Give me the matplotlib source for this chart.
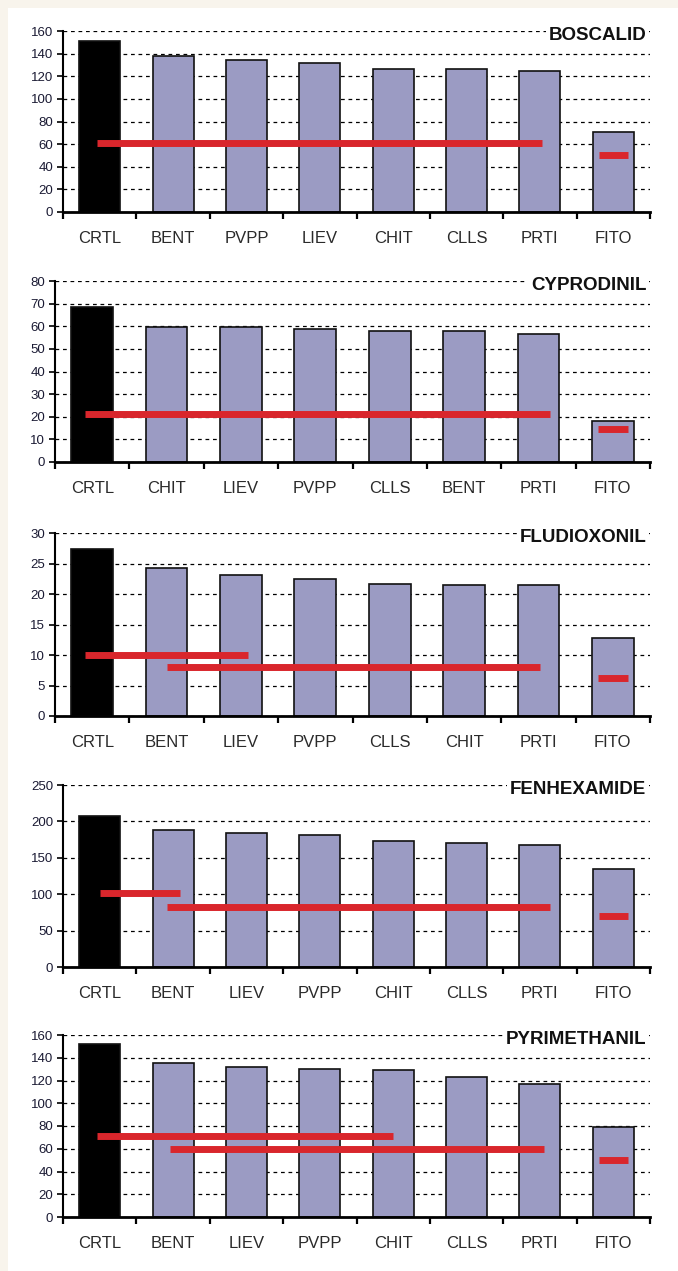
import matplotlib
matplotlib.use("Agg")
import matplotlib.pyplot as plt
from matplotlib.patches import Rectangle
from matplotlib.ticker import MultipleLocator, FixedLocator

plt.rcParams['font.family'] = ['Liberation Sans', 'DejaVu Sans']

# ---------------- data ----------------
titles = ["BOSCALID", "CYPRODINIL", "FLUDIOXONIL", "FENHEXAMIDE", "PYRIMETHANIL"]

cats_boscalid = ["CRTL", "BENT", "PVPP", "LIEV", "CHIT", "CLLS", "PRTI", "FITO"]
vals_boscalid = [151, 138, 134, 132, 126, 126, 125, 71]
groups_boscalid = [(-0.03, 6.03, 61), (6.8, 7.2, 50)]

cats_cyprodinil = ["CRTL", "CHIT", "LIEV", "PVPP", "CLLS", "BENT", "PRTI", "FITO"]
vals_cyprodinil = [68.5, 59.5, 59.5, 59, 58, 58, 56.5, 18]
groups_cyprodinil = [(-0.1, 6.15, 21), (6.8, 7.2, 14.5)]

cats_fludioxonil = ["CRTL", "BENT", "LIEV", "PVPP", "CLLS", "CHIT", "PRTI", "FITO"]
vals_fludioxonil = [27.3, 24.2, 23.1, 22.5, 21.6, 21.4, 21.4, 12.8]
groups_fludioxonil = [(-0.1, 2.1, 10), (1.0, 6.02, 8), (6.8, 7.2, 6.3)]

cats_fenhexamide = ["CRTL", "BENT", "LIEV", "PVPP", "CHIT", "CLLS", "PRTI", "FITO"]
vals_fenhexamide = [208, 188, 184, 182, 173, 171, 168, 134]
groups_fenhexamide = [(0.0, 1.1, 101), (0.92, 6.14, 83), (6.8, 7.2, 70)]

cats_pyrimethanil = ["CRTL", "BENT", "LIEV", "PVPP", "CHIT", "CLLS", "PRTI", "FITO"]
vals_pyrimethanil = [152, 135, 132, 130, 129, 123, 117, 79]
groups_pyrimethanil = [(-0.03, 4.0, 71), (0.96, 6.05, 60), (6.8, 7.2, 50)]

ymax = [160, 80, 30, 250, 160]
ystep = [20, 10, 5, 50, 20]

panels = [
    (cats_boscalid, vals_boscalid, groups_boscalid),
    (cats_cyprodinil, vals_cyprodinil, groups_cyprodinil),
    (cats_fludioxonil, vals_fludioxonil, groups_fludioxonil),
    (cats_fenhexamide, vals_fenhexamide, groups_fenhexamide),
    (cats_pyrimethanil, vals_pyrimethanil, groups_pyrimethanil),
]

# ---------------- layout ----------------
W, H = 678, 1271
DPI = 100
fig = plt.figure(figsize=(W / DPI, H / DPI), dpi=DPI)
fig.patch.set_facecolor("#F8F4EC")
fig.add_artist(Rectangle((8 / W, 0), 1 - 8 / W, 1 - 8 / H, transform=fig.transFigure,
                         facecolor="white", edgecolor="none", zorder=0))

tops = [31, 281, 533, 785, 1035]
bottoms = [212, 462, 716, 967, 1217]
lefts = [63, 55, 55, 63, 63]
right = 650

BAR = "#9B9BC3"
RED = "#D9262C"

for i, (cats, vals, groups) in enumerate(panels):
    l, r, t, b = lefts[i], right, tops[i], bottoms[i]
    ax = fig.add_axes([l / W, 1 - b / H, (r - l) / W, (b - t) / H])
    ax.set_facecolor("none")
    x = list(range(len(cats)))
    colors = ["black"] + [BAR] * (len(cats) - 1)
    ax.bar(x, vals, width=0.56, color=colors, edgecolor="#111111", linewidth=1.2, zorder=2)
    for (s, e, y) in groups:
        ax.plot([s, e], [y, y], color=RED, linewidth=5.0, solid_capstyle="butt", zorder=3)
    ax.set_xlim(-0.5, len(cats) - 0.5)
    ax.set_ylim(0, ymax[i])
    ax.yaxis.set_major_locator(MultipleLocator(ystep[i]))
    ax.yaxis.grid(True, linestyle=(0, (3, 3)), color="black", linewidth=0.9, zorder=1)
    ax.set_axisbelow(True)
    ax.set_xticks(x)
    ax.set_xticklabels(cats, fontsize=12, color="#2a2a2a")
    ax.xaxis.set_minor_locator(FixedLocator([k - 0.5 for k in range(len(cats) + 1)]))
    ax.tick_params(axis="x", which="major", length=0, pad=14)
    ax.tick_params(axis="x", which="minor", length=5, width=1.6, direction="out", color="black")
    ax.tick_params(axis="y", which="major", length=4, width=1.2, direction="out",
                   labelsize=9.5, labelcolor="#1a1a33", pad=3)
    for sp in ["top", "right"]:
        ax.spines[sp].set_visible(False)
    ax.spines["left"].set_linewidth(1.5)
    ax.spines["bottom"].set_linewidth(2.0)
    ax.text(0.994, 1 - 4.5 / (b - t), titles[i], transform=ax.transAxes, ha="right", va="center",
            fontsize=13.5, fontweight="bold", color="#111111", zorder=5,
            bbox=dict(facecolor="white", edgecolor="none", pad=2))

fig.savefig("out.png", dpi=DPI, facecolor=fig.get_facecolor())
